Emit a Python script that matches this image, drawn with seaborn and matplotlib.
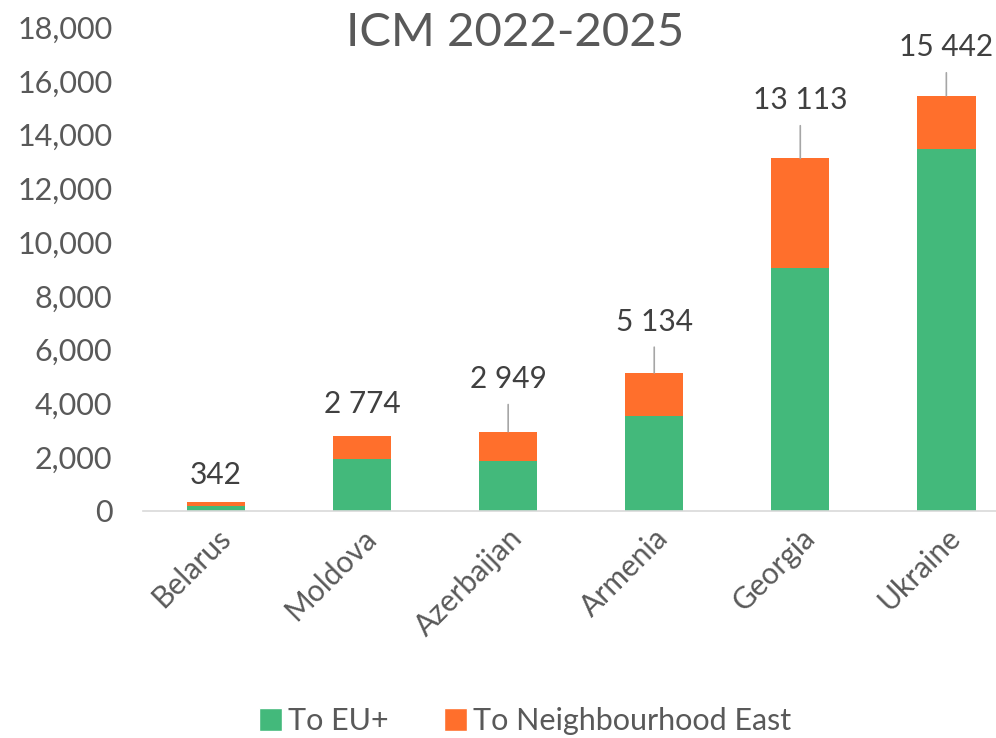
import matplotlib
matplotlib.use("Agg")
import matplotlib.pyplot as plt
import seaborn as sns
import pandas as pd
from matplotlib.patches import Patch
from matplotlib.ticker import FuncFormatter

# data
countries = ["Belarus", "Moldova", "Azerbaijan", "Armenia", "Georgia", "Ukraine"]
to_eu = [190, 1930, 1870, 3530, 9045, 13445]
to_neigh_east = [152, 844, 1079, 1604, 4068, 1997]
totals = [342, 2774, 2949, 5134, 13113, 15442]

df = pd.DataFrame({"country": countries, "eu": to_eu, "east": to_neigh_east, "total": totals})

GREEN = "#43B97B"
ORANGE = "#FF6F2C"
TEXT = "#595959"

sns.set_style("white")
plt.rcParams["font.family"] = ["Lato", "DejaVu Sans"]

fig = plt.figure(figsize=(9.96, 7.38), dpi=100)
ax = fig.add_axes([0.1436, 0.3076, 0.8564, 0.6558])

# stacked bars: full total in orange, EU+ part drawn over it in green
sns.barplot(data=df, x="country", y="total", color=ORANGE, width=0.4,
            saturation=1, ax=ax, edgecolor="none")
sns.barplot(data=df, x="country", y="eu", color=GREEN, width=0.4,
            saturation=1, ax=ax, edgecolor="none")

ax.set_xlim(-0.5, 5.34)
ax.set_ylim(0, 18000)
ax.set_yticks(range(0, 18001, 2000))
ax.yaxis.set_major_formatter(FuncFormatter(lambda v, p: f"{int(v):,}"))
ax.set_xlabel("")
ax.set_ylabel("")
ax.tick_params(axis="y", length=0, pad=22, labelsize=22, labelcolor=TEXT)
ax.tick_params(axis="x", length=0, pad=9, labelsize=21.5, labelcolor=TEXT)
plt.setp(ax.get_xticklabels(), rotation=45, ha="right", rotation_mode="anchor")

for side in ["top", "right", "left"]:
    ax.spines[side].set_visible(False)
ax.spines["bottom"].set_color("#D9D9D9")
ax.spines["bottom"].set_linewidth(1.2)

# total labels, some with leader lines
label_offsets = [19, 23, 38, 37, 42, 35]
leader = [False, False, True, True, True, True]
for i, (tot, off, has_line) in enumerate(zip(totals, label_offsets, leader)):
    txt = f"{tot:,}".replace(",", " ")
    arrow = dict(arrowstyle="-", color="#A6A6A6", lw=1.2, shrinkA=6, shrinkB=0) if has_line else None
    ax.annotate(txt, xy=(i, tot), xytext=(0, off), textcoords="offset points",
                ha="center", va="center", fontsize=21.5, color="#404040",
                arrowprops=arrow)

fig.text(0.517, 1 - 33 / 738, "ICM 2022-2025", ha="center", va="center",
         fontsize=34, color=TEXT)

handles = [Patch(facecolor=GREEN, label="To EU+"),
           Patch(facecolor=ORANGE, label="To Neighbourhood East")]
fig.legend(handles=handles, loc="center", bbox_to_anchor=(0.527, 1 - 721 / 738),
           ncol=2, frameon=False, fontsize=22, labelcolor=TEXT,
           handlelength=0.75, handleheight=0.75, handletextpad=0.2, columnspacing=1.8)

plt.savefig("out.png", dpi=100)
plt.close()
